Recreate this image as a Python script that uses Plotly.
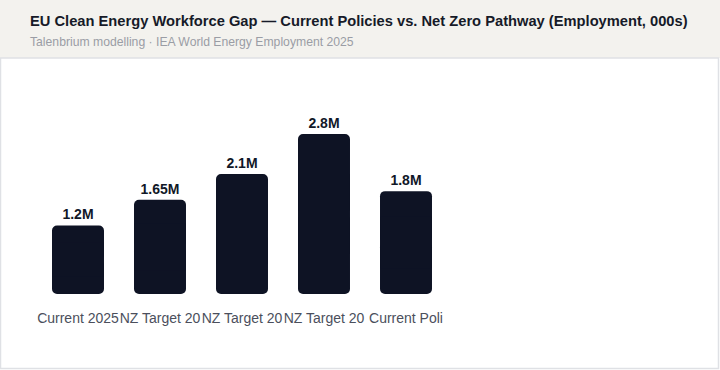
import plotly.graph_objects as go

# Data
tick_labels = ["Current 2025", "NZ Target 20", "NZ Target 20", "NZ Target 20", "Current Poli"]
values = [1.2, 1.65, 2.1, 2.8, 1.8]  # millions
value_text = ["1.2M", "1.65M", "2.1M", "2.8M", "1.8M"]
positions = list(range(len(values)))

W, H = 720, 370
HEADER_H = 58
BAR_COLOR = "#0e1324"
FONT = "Liberation Sans, Arial, sans-serif"

# Each bar: a rounded-bottom lower half, a rounded-top upper half and an
# unrounded middle section hiding the seam, so all four corners are rounded.
mids = [v / 2 for v in values]
quarters = [v / 4 for v in values]

fig = go.Figure()
fig.add_trace(go.Bar(
    x=positions, y=[-m for m in mids], base=mids,
    marker=dict(color=BAR_COLOR, line=dict(width=0), cornerradius=5),
    width=0.634, hoverinfo="skip",
))
fig.add_trace(go.Bar(
    x=positions, y=mids, base=mids, text=value_text, textposition="outside",
    cliponaxis=False,
    marker=dict(color=BAR_COLOR, line=dict(width=0), cornerradius=5),
    textfont=dict(family=FONT, size=14, color="#111827", weight="bold"),
    width=0.634, hoverinfo="skip",
))
fig.add_trace(go.Bar(
    x=positions, y=mids, base=quarters,
    marker=dict(color=BAR_COLOR, line=dict(width=0), cornerradius=0),
    width=0.634, hoverinfo="skip",
))

fig.update_layout(
    width=W, height=H,
    margin=dict(l=0, r=0, t=0, b=0),
    paper_bgcolor="#ffffff", plot_bgcolor="rgba(0,0,0,0)",
    showlegend=False,
    barmode="overlay",
    xaxis=dict(
        domain=[37 / W, 447 / W],
        range=[-0.5, 4.5],
        tickmode="array", tickvals=positions, ticktext=tick_labels,
        tickangle=0, showgrid=False, zeroline=False, showline=False,
        ticks="", ticklabelstandoff=14,
        tickfont=dict(family=FONT, size=14, color="#4b4f5c"),
        fixedrange=True,
    ),
    yaxis=dict(
        domain=[(H - 294) / H, (H - 110) / H],
        range=[0, 3.22],
        showgrid=False, zeroline=False, showline=False, showticklabels=False,
        ticks="", fixedrange=True,
    ),
    shapes=[
        dict(type="rect", xref="paper", yref="paper", x0=0, x1=1, y0=(H - HEADER_H) / H, y1=1,
             fillcolor="#f3f2ee", line=dict(width=0), layer="below"),
        dict(type="rect", xref="paper", yref="paper", x0=0.5 / W, x1=(W - 1.5) / W,
             y0=1.5 / H, y1=(H - HEADER_H) / H,
             fillcolor="rgba(0,0,0,0)", line=dict(color="#dfe1e5", width=1.5), layer="below"),
    ],
    annotations=[
        dict(text="<b>EU Clean Energy Workforce Gap — Current Policies vs. Net Zero Pathway (Employment, 000s)</b>",
             xref="paper", yref="paper", x=28 / W, y=(H - 21) / H, xanchor="left", yanchor="middle",
             showarrow=False, font=dict(family=FONT, size=14.7, color="#161a28")),
        dict(text="Talenbrium modelling · IEA World Energy Employment 2025",
             xref="paper", yref="paper", x=28 / W, y=(H - 42) / H, xanchor="left", yanchor="middle",
             showarrow=False, font=dict(family=FONT, size=12.2, color="#9a9da5")),
    ],
)

fig.write_html("out.html")
